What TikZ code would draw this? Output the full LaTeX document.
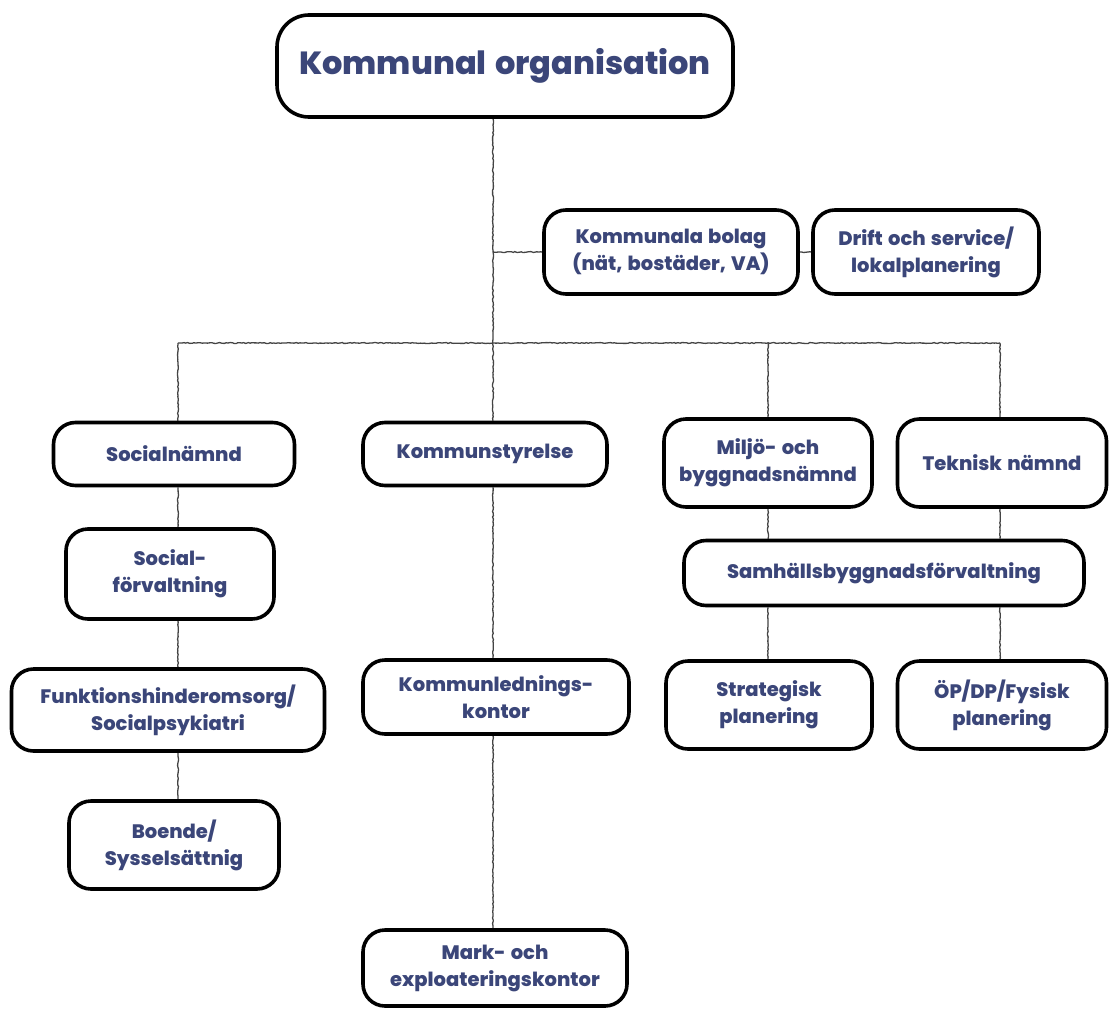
\documentclass[tikz,border=0pt]{standalone}
\usepackage{fontspec}
\setmainfont{Poppins}[BoldFont={Poppins ExtraBold},WordSpace=1.4]
\usetikzlibrary{decorations.pathmorphing,backgrounds}
\definecolor{orgblue}{HTML}{3B4679}
\definecolor{orgline}{HTML}{444444}

\begin{document}
\begin{tikzpicture}[x=1pt,y=-1pt,
  unit/.style={draw=black,line width=3.6pt,fill=white,rounded corners=22pt,font=\fontsize{19.5}{27}\selectfont\bfseries,text=orgblue,align=center,inner sep=0pt},
  conn/.style={draw=orgline,line width=1.3pt,decorate,decoration={random steps,segment length=2pt,amplitude=0.5pt}}
]
\useasboundingbox (0,0) rectangle (1110,1009);

% top level
\node[unit,minimum width=456pt,minimum height=102pt,rounded corners=32pt,font=\fontsize{32}{36}\selectfont\bfseries] (top) at (505,66) {Kommunal organisation};
\node[unit,minimum width=254pt,minimum height=84pt] (bolag) at (671,252) {Kommunala bolag\\(nät, bostäder, VA)};
\node[unit,minimum width=226pt,minimum height=84pt] (drift) at (926,252) {Drift och service/\\lokalplanering};

% boards
\node[unit,minimum width=241pt,minimum height=63pt] (socn) at (174,454) {Socialnämnd};
\node[unit,minimum width=244pt,minimum height=63pt] (kstyr) at (485,454) {Kommunstyrelse};
\node[unit,minimum width=208pt,minimum height=88pt] (miljo) at (768,463) {Miljö- och\\byggnadsnämnd};
\node[unit,minimum width=209pt,minimum height=88pt] (tekn) at (1002,463) {Teknisk nämnd};

% administrations
\node[unit,minimum width=208pt,minimum height=90pt] (socf) at (170,574) {Social-\\förvaltning};
\node[unit,minimum width=313pt,minimum height=82pt] (funk) at (168,710) {Funktionshinderomsorg/\\Socialpsykiatri};
\node[unit,minimum width=210pt,minimum height=88pt] (boende) at (174,845) {Boende/\\Sysselsättnig};
\node[unit,minimum width=266pt,minimum height=74pt] (kled) at (496,697) {Kommunlednings-\\kontor};
\node[unit,minimum width=264pt,minimum height=76pt] (mark) at (495,968) {Mark- och\\exploateringskontor};
\node[unit,minimum width=400pt,minimum height=65pt] (samh) at (884,573) {Samhällsbyggnadsförvaltning};
\node[unit,minimum width=206pt,minimum height=88pt] (strat) at (769,705) {Strategisk\\planering};
\node[unit,minimum width=209pt,minimum height=88pt] (fysisk) at (1002,705) {ÖP/DP/Fysisk\\planering};

% connectors
\coordinate (bus) at (493,343);
\coordinate (soccol) at (178,343);
\coordinate (milcol) at (768,343);
\coordinate (tekcol) at (1000,343);
\begin{scope}[on background layer]
\draw[conn] (top.south -| bus) -- (kstyr.north -| bus);
\draw[conn] (bus |- bolag.west) -- (bolag.west);
\draw[conn] (bolag.east) -- (drift.west);
\draw[conn] (soccol) -- (tekcol);
\draw[conn] (soccol) -- (socn.north -| soccol);
\draw[conn] (milcol) -- (miljo.north -| milcol);
\draw[conn] (tekcol) -- (tekn.north -| tekcol);
\draw[conn] (socn.south -| soccol) -- (socf.north -| soccol);
\draw[conn] (socf.south -| soccol) -- (funk.north -| soccol);
\draw[conn] (funk.south -| soccol) -- (boende.north -| soccol);
\draw[conn] (kstyr.south -| bus) -- (kled.north -| bus);
\draw[conn] (kled.south -| bus) -- (mark.north -| bus);
\draw[conn] (miljo.south -| milcol) -- (samh.north -| milcol);
\draw[conn] (tekn.south -| tekcol) -- (samh.north -| tekcol);
\draw[conn] (samh.south -| milcol) -- (strat.north -| milcol);
\draw[conn] (samh.south -| tekcol) -- (fysisk.north -| tekcol);
\end{scope}
\end{tikzpicture}
\end{document}
